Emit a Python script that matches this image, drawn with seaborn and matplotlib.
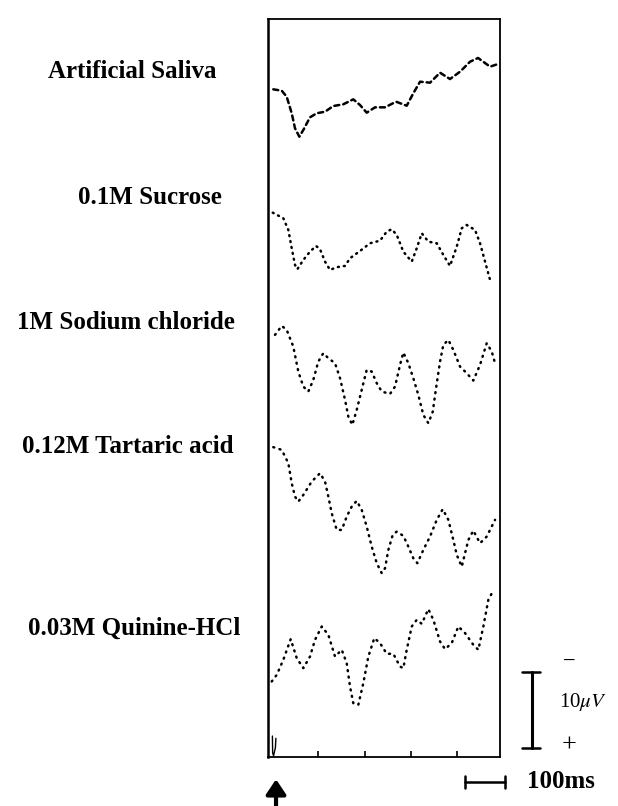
import matplotlib
matplotlib.use("Agg")
import matplotlib.pyplot as plt
import seaborn as sns
import pandas as pd

sns.set_style("white")
plt.rcParams['font.family'] = ['Liberation Serif', 'DejaVu Serif']
plt.rcParams['mathtext.fontset'] = 'stix'
plt.rcParams['text.color'] = 'black'

# ---- data: time (ms) and amplitude (uV, negative = up) relative to trace offset ----
labels = ["Artificial Saliva", "0.1M Sucrose", "1M Sodium chloride",
          "0.12M Tartaric acid", "0.03M Quinine-HCl"]
offsets = [11, 30, 46, 64, 83]

t1 = [3.4, 21.6, 32.3, 43.1, 50.2, 59.5, 68.1, 82.5, 97.0, 114.9, 132.7, 154.3, 175.8,
      190.3, 204.7, 222.6, 244.2, 267.9, 290.9, 305.1, 319.6, 341.1, 362.7, 384.2,
      405.8, 427.3, 444.6, 470.5, 487.7]
v1 = [-1.78, -1.60, -0.81, 1.36, 3.33, 4.43, 3.55, 1.89, 1.36, 1.15, 0.41, 0.18, -0.47,
      0.28, 1.28, 0.58, 0.58, -0.16, 0.37, -1.26, -2.78, -2.65, -3.96, -3.13,
      -4.09, -5.40, -5.89, -4.75, -5.10]

t2 = [2.2, 25.0, 35.8, 43.1, 50.2, 55.2, 68.1, 82.5, 95.5, 104.1, 114.9, 125.6, 140.1,
      158.0, 168.8, 190.3, 211.8, 233.4, 247.8, 258.6, 269.4, 283.6, 301.7, 312.5,
      323.3, 337.5, 355.6, 369.8, 384.2, 398.7, 409.5, 420.2, 438.1, 448.9, 459.7, 470.5]
v2 = [-4.61, -3.88, -2.35, 0.05, 2.24, 2.81, 1.59, 0.50, -0.25, 0.18, 1.81, 2.90, 2.54,
      2.37, 1.36, 0.41, -0.60, -0.94, -2.12, -2.44, -1.69, 0.50, 1.81, 0.05,
      -1.91, -0.81, -0.60, 0.93, 2.37, -0.16, -2.57, -3.00, -2.35, -0.60, 1.81, 4.21]

t3 = [7.1, 21.6, 32.3, 46.5, 57.3, 68.1, 78.9, 89.6, 100.4, 111.2, 122.0, 136.4, 147.2,
      158.0, 165.1, 173.7, 183.2, 193.9, 204.7, 215.5, 226.3, 237.1, 254.9, 265.7,
      276.5, 283.6, 294.4, 305.1, 315.9, 326.7, 337.5, 347.0, 354.1, 362.7, 369.8,
      380.6, 391.3, 405.8, 420.2, 434.4, 448.9, 463.3, 474.1, 481.2]
v3 = [-4.59, -5.77, -5.24, -3.05, 0.22, 2.19, 2.84, 1.31, -1.09, -2.19, -1.53, -0.88, 1.09,
      3.93, 6.12, 7.21, 5.24, 2.62, 0.00, 0.22, 1.74, 2.84, 3.15, 2.19,
      -0.66, -2.27, -0.88, 1.09, 3.28, 5.90, 6.99, 5.47, 2.40, -1.09, -3.28,
      -3.93, -2.62, -0.43, 0.43, 1.40, -0.66, -3.50, -2.40, -0.88]

t4 = [3.4, 21.6, 35.8, 43.1, 50.2, 57.3, 68.1, 86.2, 104.1, 114.9, 122.0, 129.3, 140.1,
      150.9, 161.6, 172.4, 183.2, 193.9, 204.7, 215.5, 226.3, 237.1, 244.2, 251.3,
      260.8, 269.4, 283.6, 294.4, 305.1, 313.8, 326.7, 341.1, 355.6, 368.5, 380.6,
      391.3, 398.7, 409.5, 416.6, 423.7, 434.4, 448.9, 463.3, 481.2]
v4 = [-7.87, -7.51, -5.77, -3.15, -1.39, -0.73, -1.61, -3.36, -4.46, -3.36, -1.39, 0.79, 2.98,
      2.98, 1.23, -0.08, -0.83, 0.35, 2.54, 5.17, 7.34, 8.65, 8.00, 5.60,
      3.63, 3.20, 3.76, 5.17, 6.69, 7.34, 5.60, 3.85, 1.66, 0.26, 1.66,
      4.29, 6.25, 7.79, 6.03, 4.29, 3.07, 4.72, 3.85, 1.66]

t5 = [0.0, 10.8, 25.0, 40.9, 53.9, 68.1, 82.5, 93.3, 107.8, 122.0, 136.4, 150.9, 161.6,
      168.7, 175.8, 186.6, 197.4, 208.2, 221.1, 233.4, 247.8, 262.0, 276.5, 283.6,
      290.9, 301.7, 312.5, 323.3, 337.5, 348.3, 362.7, 373.5, 387.9, 402.1, 416.6,
      434.4, 445.2, 456.0, 466.8, 477.5]
v5 = [3.85, 2.98, 1.01, -1.70, 0.79, 2.10, 0.58, -1.61, -3.36, -2.27, 0.58, -0.30, 1.44,
      4.51, 6.69, 6.91, 4.06, 0.58, -1.84, -1.18, 0.22, 0.22, 1.89, 2.10,
      -0.30, -3.36, -4.23, -3.71, -5.64, -4.23, -1.39, -0.39, -1.18, -3.36, -2.49,
      -0.96, -0.30, -3.36, -6.86, -8.08]

times = [t1, t2, t3, t4, t5]
values = [v1, v2, v3, v4, v5]
tick_ms = [100, 200, 300, 400]

# ---- figure ----
W, H = 618, 806
fig = plt.figure(figsize=(W / 100, H / 100), dpi=100)
ax = fig.add_axes([268 / W, 1 - 757 / H, (500 - 268) / W, (757 - 19) / H])

styles = [(0, (2.0, 1.6)), (0, (0.4, 2.0)), (0, (0.4, 2.2)), (0, (0.4, 2.2)), (0, (0.4, 2.2))]
for t, v, off, ls in zip(times, values, offsets, styles):
    df = pd.DataFrame({"t": t, "v": [off + x for x in v]})
    sns.lineplot(data=df, x="t", y="v", ax=ax, color="black", sort=False,
                 estimator=None, linewidth=1.8, linestyle=ls)
for ln in ax.get_lines():
    ln.set_dash_capstyle("round")

ax.set_xlim(-8.0, 491.9)
ax.set_ylim(96.75, 0)
ax.set_xticks(tick_ms)
ax.set_yticks([])
ax.set_xticklabels([])
ax.set_xlabel("")
ax.set_ylabel("")
ax.tick_params(axis="x", direction="in", length=4, width=1.2, bottom=True, color="black")
for s in ax.spines.values():
    s.set_visible(True)
    s.set_color("black")
    s.set_linewidth(1.3)
ax.spines["left"].set_linewidth(1.8)

# stimulus mark
ax.plot([1.5, 2.0, 4.0, 8.0, 9.0], [94.0, 96.2, 96.6, 95.5, 94.3], color="black",
        lw=1.0, clip_on=False)

# labels
label_pos = [(132, 72), (150, 198), (126, 323), (128, 447), (134, 628)]
for lab, (x, y) in zip(labels, label_pos):
    fig.text(x / W, 1 - y / H, lab, ha="center", va="center", fontsize=18,
             fontweight="bold", color="black")

# vertical scale bar (10 uV)
vx = 561
ax.plot([vx, vx], [85.6, 95.6], color="black", lw=2.2, clip_on=False)
ax.plot([539, 578], [85.6, 85.6], color="black", lw=1.8, clip_on=False)
ax.plot([539, 578], [95.6, 95.6], color="black", lw=1.8, clip_on=False)
ax.text(641, 84.4, "\u2212", ha="center", va="center", fontsize=16, clip_on=False)
ax.text(619, 89.5, r"10$\mu V$", ha="left", va="center", fontsize=15, clip_on=False)
ax.text(641, 95.2, "+", ha="center", va="center", fontsize=19, clip_on=False)

# horizontal scale bar (100 ms)
ax.plot([416.6, 502.8], [100.0, 100.0], color="black", lw=1.8, clip_on=False)
ax.plot([416.6, 416.6], [99.2, 100.8], color="black", lw=1.8, clip_on=False)
ax.plot([502.8, 502.8], [99.2, 100.8], color="black", lw=1.8, clip_on=False)
ax.text(551, 100.0, "100ms", ha="left", va="center", fontsize=18, fontweight="bold",
        clip_on=False)

# stimulus arrow
ax.annotate("", xy=(9.3, 99.3), xytext=(9.3, 104.0), xycoords="data",
            arrowprops=dict(arrowstyle="-|>,head_width=0.3,head_length=0.45",
                            color="black", lw=3.0, mutation_scale=20),
            annotation_clip=False)

fig.savefig("out.png", dpi=100, facecolor="white")
